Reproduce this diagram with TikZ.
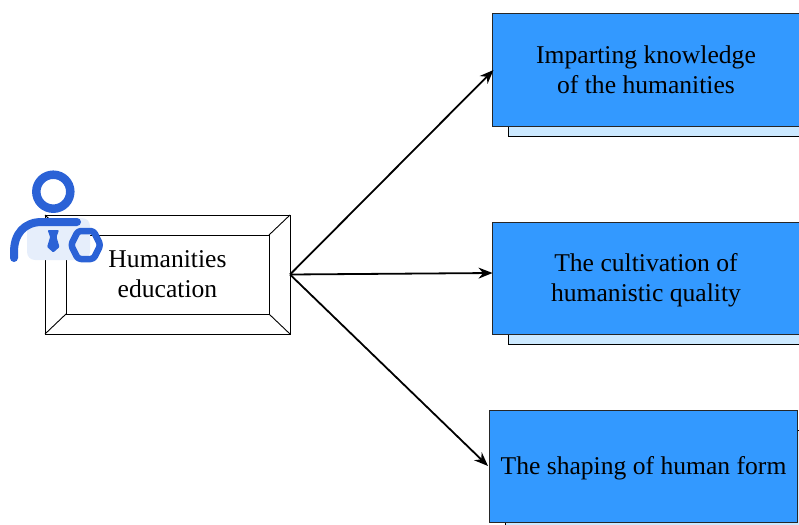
\documentclass[tikz,border=0pt]{standalone}
\usepackage{fontspec}
\setmainfont{Liberation Serif}
\usepackage{color}
\usetikzlibrary{arrows.meta}
\definecolor{boxblue}{HTML}{3399FF}
\definecolor{backblue}{HTML}{CCE9FF}
\definecolor{iconblue}{HTML}{2B62D6}
\definecolor{iconpale}{HTML}{E6EEFB}

\begin{document}
\begin{tikzpicture}[x=1pt,y=-1pt]
\tikzstyle{bevel}=[rectangle, draw=black, line width=0.9pt, outer sep=0pt, fill=white]
\tikzstyle{front}=[rectangle, minimum width=308pt, minimum height=112pt, draw=black!85, line width=1pt, fill=boxblue, outer sep=0pt]
\tikzstyle{back}=[rectangle, minimum width=308pt, minimum height=102pt, draw=black, line width=1pt, fill=backblue, outer sep=0pt]
\tikzstyle{caption}=[align=center, font=\fontsize{25.6}{30}\selectfont]
\tikzstyle{connect}=[-{Stealth[length=14pt,width=11pt]}, line width=1.8pt]
\tikzstyle{iconline}=[draw=iconblue, line width=8pt, line cap=round, line join=round]
\useasboundingbox (0,0) rectangle (799,524);
\clip (0,0) rectangle (799,524);
	% back sheets
	\node[back] (back_1) at (662,85) {};
	\node[back] (back_2) at (662,293) {};
	\node[back] (back_3) at (659.5,481) {};
	% front boxes
	\node[front] (box_1) at (646,70) {};
	\node[front] (box_2) at (646,278) {};
	\node[front] (box_3) at (643.5,466) {};
	\node[caption] (text_1) at (646,70) {Imparting knowledge\\of the humanities};
	\node[caption] (text_2) at (646,280.5) {The cultivation of\\humanistic quality};
	\node[caption] (text_3) at (643.5,468) {The shaping of human form};
	% bevel box
	\node[bevel, minimum width=245pt, minimum height=119pt] (hum_out) at (167.5,274.5) {};
	\node[bevel, minimum width=203pt, minimum height=79pt] (hum_in) at (167.5,274.5) {};
	\node[caption] (text_hum) at (167.5,274.5) {Humanities\\education};
	\coordinate (in_2) at (492.5,273);
	\coordinate (in_3) at (488,466);
	\coordinate (in_1) at (493.5,70);

	\path[draw=black, line width=0.9pt]
		(hum_out.north west) edge [] (hum_in.north west)
		(hum_out.north east) edge [] (hum_in.north east)
		(hum_out.south west) edge [] (hum_in.south west)
		(hum_out.south east) edge [] (hum_in.south east);
	\path
		(hum_out.east) edge [connect] (in_1)
		(hum_out.east) edge [connect] (in_2)
		(hum_out.east) edge [connect] (in_3);

	% person icon
	\fill[iconpale, rounded corners=8pt] (27,218) rectangle (90,260);
	\draw[iconline, line width=8.5pt] (53.3,191.7) circle (17);
	\draw[iconline] (14,258) -- (14,252) .. controls (14,234) and (24,222) .. (42,222) -- (77,222);
	\fill[iconblue, rounded corners=1pt] (47.6,230) -- (59,230) -- (56.5,237) -- (59.5,247) -- (53.3,252.5) -- (47.1,247) -- (50.1,237) -- cycle;
	\draw[iconline, line width=6.5pt, rounded corners=3pt] (71,245) -- (78,231) -- (93.5,231) -- (100.5,245) -- (93.5,259) -- (78,259) -- cycle;
\end{tikzpicture}
\end{document}
